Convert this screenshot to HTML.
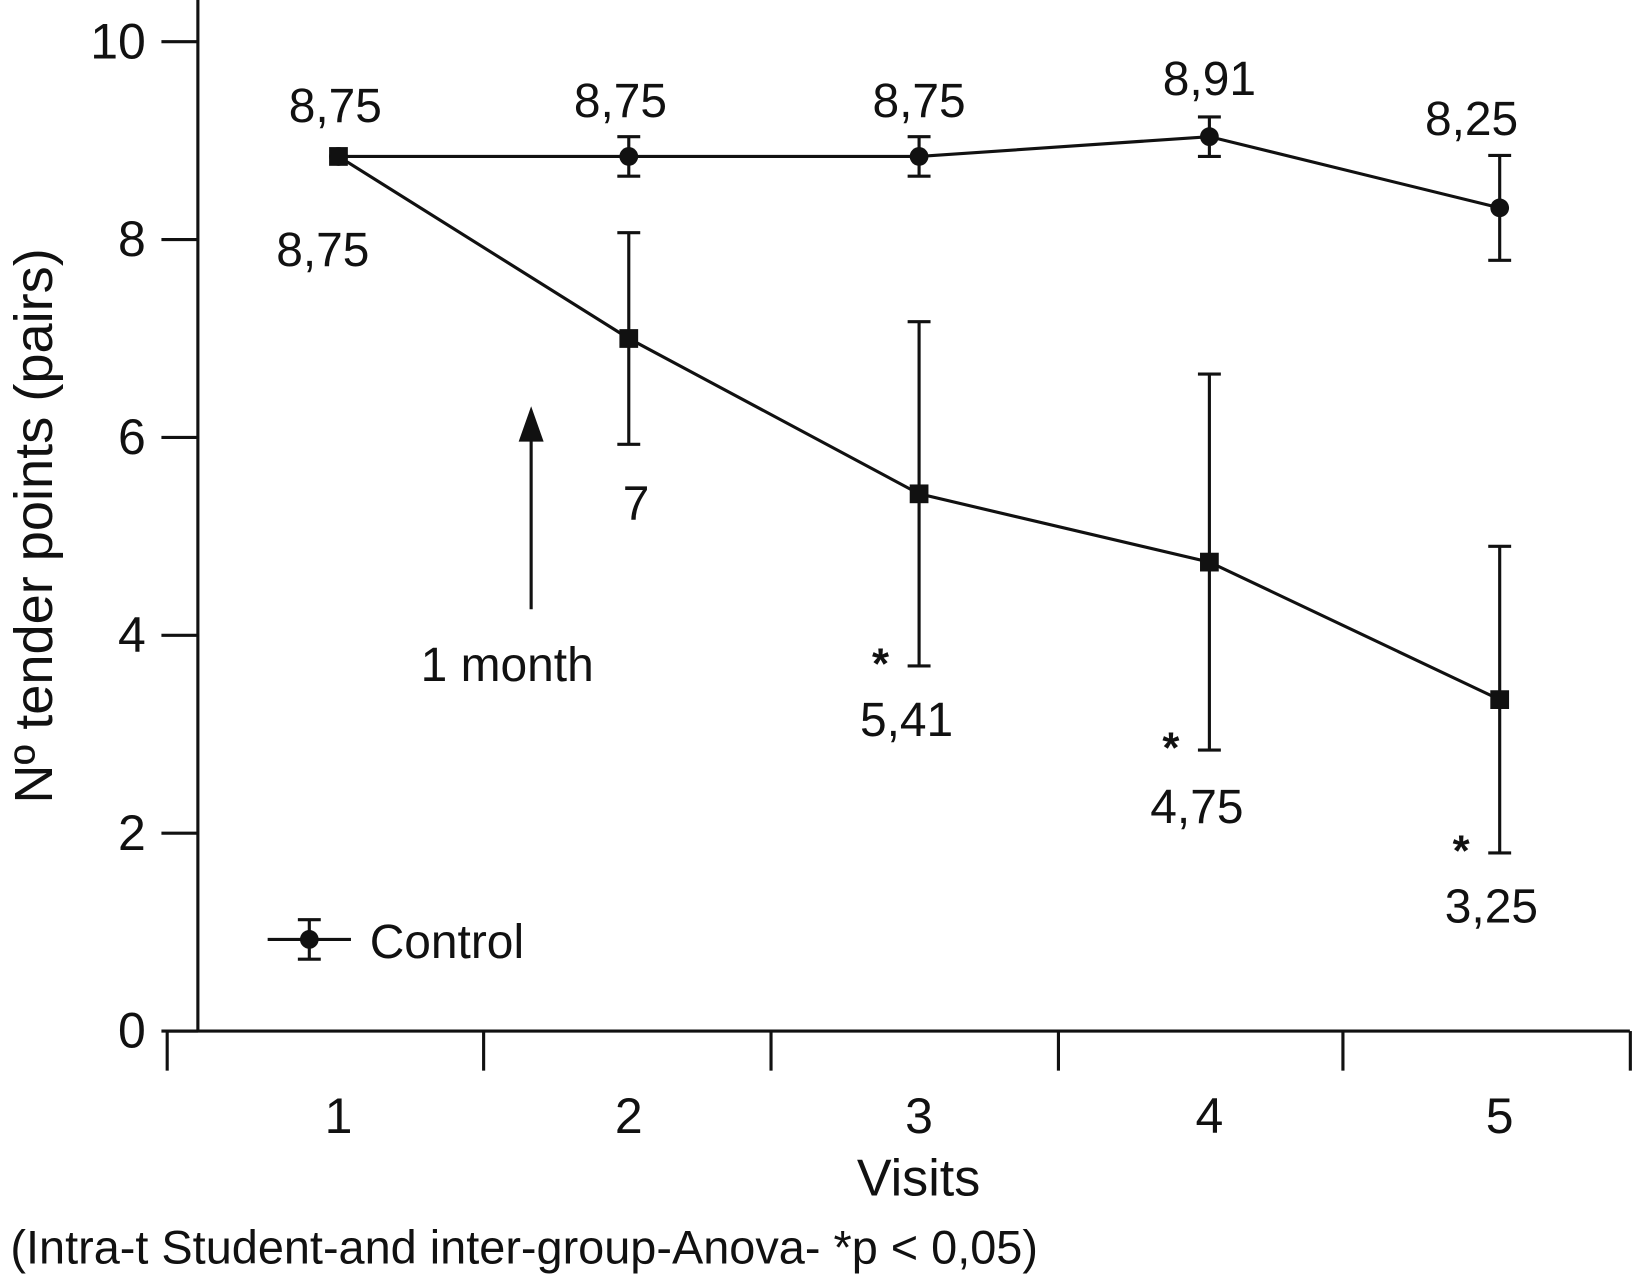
<!DOCTYPE html>
<html><head><meta charset="utf-8"><style>
html,body{margin:0;padding:0;background:#fff}
svg{display:block;font-family:"Liberation Sans",Arial,sans-serif}
</style></head><body>
<svg id="chart" width="1633" height="1280" viewBox="0 0 1568 1229" xmlns="http://www.w3.org/2000/svg">
<g id="axes" stroke="#111" stroke-width="3" fill="none"></g>
<g id="marks"></g>
<g id="labels" font-size="46" fill="#111"></g>
</svg>
<script>
const visits = [1, 2, 3, 4, 5];
const yTicks = [0, 2, 4, 6, 8, 10];
const xTickEdges = [0.41, 1.5, 2.49, 3.48, 4.46, 5.45];
const controlValues = [8.84, 8.84, 8.84, 9.04, 8.32];
const controlErr = [0, 0.2, 0.2, 0.2, 0.53];
const controlLabels = ["8,75", "8,75", "8,75", "8,91", "8,25"];
const treatValues = [8.84, 7.0, 5.43, 4.74, 3.35];
const treatErr = [0, 1.07, 1.74, 1.9, 1.55];
const treatLabels = ["8,75", "7", "5,41", "4,75", "3,25"];
const treatStars = ["", "", "*", "*", "*"];

const NS = "http://www.w3.org/2000/svg";
const X = v => 325 + (v - 1) * 278.75;
const Y = v => 990 - v * 95;
function mk(tag, attrs, parent, text) {
  const e = document.createElementNS(NS, tag);
  for (const k in attrs) e.setAttribute(k, attrs[k]);
  if (text !== undefined) e.textContent = text;
  parent.appendChild(e);
  return e;
}
const axes = document.getElementById('axes');
const marks = document.getElementById('marks');
const labels = document.getElementById('labels');

let yl = mk('line', {x1:190, y1:0, x2:190, y2:990}, axes);


let xl = mk('line', {x1:160, y1:990, x2:1565, y2:990}, axes);



yTicks.forEach(t => {
  const ln = mk('line', {x1:155, y1:Y(t), x2:190, y2:Y(t)}, axes);
  
  
  const tx = mk('text', {x:140, y:Y(t)+16, 'text-anchor':'end', 'font-size':48}, labels, String(t));
  
  
});
xTickEdges.forEach(e => {
  const x = X(e);
  const ln = mk('line', {x1:x, y1:990, x2:x, y2:1028}, axes);
  
  
});
visits.forEach(v => {
  const tx = mk('text', {x:X(v), y:1088, 'text-anchor':'middle', 'font-size':48}, labels, String(v));
  
  
});

function series(vals, errs, kind, name) {
  const pts = vals.map((v, i) => X(visits[i]) + ',' + Y(v)).join(' ');
  const pl = mk('polyline', {points:pts, fill:'none', stroke:'#111', 'stroke-width':3}, marks);
  
  
  vals.forEach((v, i) => {
    const x = X(visits[i]);
    if (errs[i] > 0) {
      const g = mk('g', {stroke:'#111', 'stroke-width':3}, marks);
      
      
      mk('line', {x1:x, y1:Y(v+errs[i]), x2:x, y2:Y(v-errs[i])}, g);
      mk('line', {x1:x-11, y1:Y(v+errs[i]), x2:x+11, y2:Y(v+errs[i])}, g);
      mk('line', {x1:x-11, y1:Y(v-errs[i]), x2:x+11, y2:Y(v-errs[i])}, g);
    }
    let m;
    if (kind === 'circle') m = mk('circle', {cx:x, cy:Y(v), r:9, fill:'#111'}, marks);
    else m = mk('rect', {x:x-9, y:Y(v)-9, width:18, height:18, fill:'#111'}, marks);
    
    
  });
}
series(controlValues, controlErr, 'circle', 'control');
series(treatValues, treatErr, 'square', 'treatment');

const cOff = [[-3,-33],[-8,-38],[0,-38],[0,-40],[-27,-70]];
controlLabels.forEach((s, i) => {
  const t = mk('text', {x:X(visits[i])+cOff[i][0], y:Y(controlValues[i])+cOff[i][1], 'text-anchor':'middle'}, labels, s);
  
  
});
const tOff = [[-15,105],[7,72],[-12,67],[-12,70],[-8,67]];
treatLabels.forEach((s, i) => {
  const by = (treatErr[i] > 0 ? Y(treatValues[i]-treatErr[i]) : Y(treatValues[i]));
  const t = mk('text', {x:X(visits[i])+tOff[i][0], y:by+tOff[i][1], 'text-anchor':'middle'}, labels, s);
  
  
  if (treatStars[i]) {
    const st = mk('text', {x:X(visits[i])-37, y:by+12, 'text-anchor':'middle', 'font-size':42, 'font-weight':'bold'}, labels, treatStars[i]);
    
    
  }
});
</script>
<script>
(function(){
const svg = document.getElementById('chart');
const NS = "http://www.w3.org/2000/svg";
const g = document.createElementNS(NS,'g');
g.innerHTML = `
<g><line x1="510" y1="585" x2="510" y2="420" stroke="#111" stroke-width="3"/><polygon points="510,390 498,424 522,424" fill="#111"/></g>
<text x="487" y="654" text-anchor="middle" font-size="46" fill="#111">1 month</text>
<g stroke="#111" stroke-width="3"><line x1="257" y1="902" x2="337" y2="902"/><line x1="297" y1="883" x2="297" y2="921"/><line x1="286" y1="883" x2="308" y2="883"/><line x1="286" y1="921" x2="308" y2="921"/><circle cx="297" cy="902" r="9" fill="#111" stroke="none"/></g>
<text x="355" y="920" font-size="46" fill="#111">Control</text>
<text x="882" y="1148" text-anchor="middle" font-size="50" fill="#111">Visits</text>
<text transform="translate(50,505) rotate(-90)" text-anchor="middle" font-size="52" fill="#111">Nº tender points (pairs)</text>
<text x="10" y="1213" font-size="45" fill="#111">(Intra-t Student-and inter-group-Anova- *p &lt; 0,05)</text>`;
svg.appendChild(g);
})();
</script>
</body></html>
